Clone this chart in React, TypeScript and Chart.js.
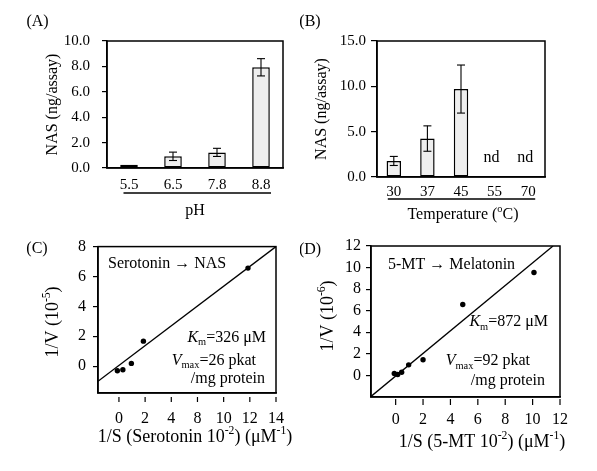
import React, { useEffect, useRef } from 'react';
import { Chart, registerables } from 'chart.js';
Chart.register(...registerables);

const FONT = '"Liberation Serif", "Times New Roman", serif';

// ---- Panel A: pH ----
const phLabels = ['5.5', '6.5', '7.8', '8.8'];
const phNas = [0.25, 0.92, 1.23, 7.93];
const phErr = [0, 0.33, 0.32, 0.68];
const phYTicks = [0, 2, 4, 6, 8, 10];

// ---- Panel B: temperature ----
const tempLabels = ['30', '37', '45', '55', '70'];
const tempNas: (number | null)[] = [1.77, 4.24, 9.7, null, null];
const tempErr: (number | null)[] = [0.5, 1.4, 2.65, null, null];
const tempYTicks = [0, 5, 10, 15];

// ---- Panel C: Serotonin -> NAS ----
const serX = [-0.12, 0.3, 0.95, 1.87, 9.86];
const serY = [-0.31, -0.24, 0.18, 1.67, 6.56];
const serFitX = [-1.6, 12];
const serFitY = [-1.02, 8];
const serXTicks = [0, 2, 4, 6, 8, 10, 12];
const serXTickLabels = ['0', '2', '4', '8', '10', '12', '14'];
const serYTicks = [0, 2, 4, 6, 8];

// ---- Panel D: 5-MT -> Melatonin ----
const mtX = [-0.1, 0.15, 0.44, 0.95, 2.0, 4.9, 10.1];
const mtY = [0.18, 0.09, 0.3, 0.98, 1.45, 6.58, 9.54];
const mtFitX = [-1.8, 11.49];
const mtFitY = [-1.95, 12];
const mtXTicks = [0, 2, 4, 6, 8, 10, 12];
const mtXTickLabels = ['0', '2', '4', '6', '8', '10', '12'];
const mtYTicks = [0, 2, 4, 6, 8, 10, 12];

type Seg = { t: string; sup?: boolean; sub?: boolean; it?: boolean };

function segFont(size: number, s: Seg) {
  const sz = s.sup || s.sub ? size * 0.65 : size;
  return `${s.it ? 'italic ' : ''}${sz}px ${FONT}`;
}

function drawRich(ctx: CanvasRenderingContext2D, segs: Seg[], x: number, y: number, size: number, align: 'left' | 'center' | 'right', rotate = false) {
  ctx.save();
  ctx.translate(x, y);
  if (rotate) ctx.rotate(-Math.PI / 2);
  ctx.textBaseline = 'middle';
  ctx.textAlign = 'left';
  ctx.fillStyle = '#000';
  let w = 0;
  for (const s of segs) {
    ctx.font = segFont(size, s);
    w += ctx.measureText(s.t).width;
  }
  let cx = align === 'center' ? -w / 2 : align === 'right' ? -w : 0;
  for (const s of segs) {
    ctx.font = segFont(size, s);
    const dy = s.sup ? -size * 0.36 : s.sub ? size * 0.3 : 0;
    ctx.fillText(s.t, cx, dy);
    cx += ctx.measureText(s.t).width;
  }
  ctx.restore();
}

function line(ctx: CanvasRenderingContext2D, x1: number, y1: number, x2: number, y2: number, w = 1.2) {
  ctx.beginPath();
  ctx.lineWidth = w;
  ctx.strokeStyle = '#000';
  ctx.moveTo(x1, y1);
  ctx.lineTo(x2, y2);
  ctx.stroke();
}

function frame(chart: any) {
  const { left, top, right, bottom } = chart.chartArea;
  const ctx = chart.ctx;
  ctx.lineWidth = 1.5;
  ctx.strokeStyle = '#000';
  ctx.strokeRect(left, top, right - left, bottom - top);
}

function yAxis(o: { min: number; max: number; ticks: number[]; width: number; size: number; pad: number; tl: number; fmt: (v: number) => string; title?: any }) {
  return {
    type: 'linear',
    min: o.min,
    max: o.max,
    afterBuildTicks: (s: any) => { s.ticks = o.ticks.map((v) => ({ value: v })); },
    afterFit: (s: any) => { s.width = o.width; },
    ticks: { font: { family: FONT, size: o.size }, color: '#000', padding: o.pad, callback: (v: any) => o.fmt(Number(v)) },
    grid: { display: true, drawOnChartArea: false, drawTicks: true, tickLength: o.tl, color: '#000', lineWidth: 1.2 },
    border: { display: true, color: '#000', width: 1.5 },
    title: o.title || { display: false },
  };
}

function barConfig(p: {
  labels: string[]; values: (number | null)[]; errs: (number | null)[]; yMin: number; yMax: number; yTicks: number[];
  pad: any; yWidth: number; xHeight: number; yPad: number; yTl: number; yTitlePad: number; xPad: number; barPct: number;
  xTitle?: string; xTitlePadBottom?: number; draw: (chart: any) => void;
}) {
  return {
    type: 'bar',
    data: {
      labels: p.labels,
      datasets: [{
        data: p.values,
        backgroundColor: '#eeeeee',
        borderColor: '#000',
        borderWidth: 1.5,
        borderSkipped: false,
        categoryPercentage: 1,
        barPercentage: p.barPct,
      }],
    },
    options: {
      responsive: false,
      animation: false,
      devicePixelRatio: 1,
      layout: { padding: p.pad },
      plugins: { legend: { display: false }, tooltip: { enabled: false } },
      scales: {
        x: {
          type: 'category',
          offset: true,
          afterFit: (s: any) => { s.height = p.xHeight; },
          grid: { display: false, drawTicks: false },
          border: { display: true, color: '#000', width: 1.5 },
          ticks: { font: { family: FONT, size: 15 }, color: '#000', padding: p.xPad, maxRotation: 0 },
          title: p.xTitle
            ? { display: true, text: p.xTitle, font: { family: FONT, size: 16 }, color: '#000', padding: { top: 0, bottom: p.xTitlePadBottom } }
            : { display: false },
        },
        y: yAxis({
          min: p.yMin, max: p.yMax, ticks: p.yTicks, width: p.yWidth, size: 15, pad: p.yPad, tl: p.yTl,
          fmt: (v) => v.toFixed(1),
          title: { display: true, text: 'NAS (ng/assay)', font: { family: FONT, size: 16 }, color: '#000', padding: { top: p.yTitlePad, bottom: 0 } },
        }),
      },
    },
    plugins: [{
      id: 'panelDecor',
      afterDraw: (chart: any) => {
        const ctx = chart.ctx;
        ctx.save();
        frame(chart);
        const meta = chart.getDatasetMeta(0);
        const ys = chart.scales.y;
        meta.data.forEach((bar: any, i: number) => {
          const v = p.values[i];
          const e = p.errs[i];
          if (v == null || !e) return;
          const yt = ys.getPixelForValue(v + e);
          const yb = ys.getPixelForValue(v - e);
          line(ctx, bar.x, yt, bar.x, yb, 1.1);
          line(ctx, bar.x - 4, yt, bar.x + 4, yt, 1.1);
          line(ctx, bar.x - 4, yb, bar.x + 4, yb, 1.1);
        });
        p.draw(chart);
        ctx.restore();
      },
    }],
  };
}

function scatterConfig(p: {
  xs: number[]; ys: number[]; fitX: number[]; fitY: number[]; xMin: number; xMax: number; yMin: number; yMax: number;
  xTicks: number[]; xTickLabels: string[]; yTicks: number[]; pad: any; yWidth: number; xHeight: number; yPad: number;
  xPad: number; tickGap: number; tickLen: number; draw: (chart: any) => void;
}) {
  return {
    type: 'scatter',
    data: {
      datasets: [
        {
          data: p.fitX.map((x, i) => ({ x, y: p.fitY[i] })),
          showLine: true,
          borderColor: '#000',
          borderWidth: 1.3,
          pointRadius: 0,
          fill: false,
        },
        {
          data: p.xs.map((x, i) => ({ x, y: p.ys[i] })),
          backgroundColor: '#000',
          borderColor: '#000',
          pointRadius: 2.7,
          borderWidth: 0,
        },
      ],
    },
    options: {
      responsive: false,
      animation: false,
      devicePixelRatio: 1,
      layout: { padding: p.pad },
      plugins: { legend: { display: false }, tooltip: { enabled: false } },
      scales: {
        x: {
          type: 'linear',
          min: p.xMin,
          max: p.xMax,
          afterBuildTicks: (s: any) => { s.ticks = p.xTicks.map((v) => ({ value: v })); },
          afterFit: (s: any) => { s.height = p.xHeight; },
          grid: { display: false, drawTicks: false },
          border: { display: true, color: '#000', width: 1.5 },
          ticks: {
            font: { family: FONT, size: 16 }, color: '#000', padding: p.xPad, maxRotation: 0,
            callback: (v: any) => p.xTickLabels[p.xTicks.indexOf(Number(v))],
          },
        },
        y: yAxis({ min: p.yMin, max: p.yMax, ticks: p.yTicks, width: p.yWidth, size: 16, pad: p.yPad, tl: 5, fmt: (v) => String(v) }),
      },
    },
    plugins: [{
      id: 'panelDecor',
      afterDraw: (chart: any) => {
        const ctx = chart.ctx;
        ctx.save();
        frame(chart);
        const xs = chart.scales.x;
        const b = chart.chartArea.bottom;
        p.xTicks.forEach((v) => {
          const x = xs.getPixelForValue(v);
          line(ctx, x, b + p.tickGap, x, b + p.tickGap + p.tickLen, 1.2);
        });
        p.draw(chart);
        ctx.restore();
      },
    }],
  };
}

const configA = () => barConfig({
  labels: phLabels, values: phNas, errs: phErr, yMin: 0, yMax: 10, yTicks: phYTicks,
  pad: { left: 0, top: 41, right: 17, bottom: 0 }, yWidth: 107, xHeight: 62, yPad: 12, yTl: 5, yTitlePad: 43,
  xPad: 8, barPct: 0.4, xTitle: 'pH', xTitlePadBottom: 10,
  draw: (chart) => {
    const ctx = chart.ctx;
    const xs = chart.scales.x;
    const y = chart.chartArea.bottom + 25;
    line(ctx, xs.getPixelForValue(0) - 5.5, y, xs.getPixelForValue(phLabels.length - 1) + 10, y, 1.3);
    drawRich(ctx, [{ t: '(A)' }], 37.5, 22, 16, 'center');
  },
});

const configB = () => barConfig({
  labels: tempLabels, values: tempNas, errs: tempErr, yMin: 0, yMax: 15, yTicks: tempYTicks,
  pad: { left: 0, top: 41, right: 52, bottom: 0 }, yWidth: 77, xHeight: 53, yPad: 5, yTl: 6, yTitlePad: 12,
  xPad: 6, barPct: 0.43,
  draw: (chart) => {
    const ctx = chart.ctx;
    const xs = chart.scales.x;
    const ys = chart.scales.y;
    const { left, right, bottom } = chart.chartArea;
    tempNas.forEach((v, i) => {
      if (v == null) drawRich(ctx, [{ t: 'nd' }], xs.getPixelForValue(i) - 3, ys.getPixelForValue(0) - 19, 16, 'center');
    });
    const y = bottom + 22;
    line(ctx, xs.getPixelForValue(0) - 6, y, xs.getPixelForValue(tempLabels.length - 1) + 7, y, 1.3);
    drawRich(ctx, [{ t: 'Temperature (' }, { t: 'o', sup: true }, { t: 'C)' }], (left + right) / 2 + 2, 215, 16, 'center');
    drawRich(ctx, [{ t: '(B)' }], 10, 22, 16, 'center');
  },
});

const configC = () => scatterConfig({
  xs: serX, ys: serY, fitX: serFitX, fitY: serFitY, xMin: -1.6, xMax: 12, yMin: -1.8, yMax: 8,
  xTicks: serXTicks, xTickLabels: serXTickLabels, yTicks: serYTicks,
  pad: { left: 0, top: 15, right: 21, bottom: 0 }, yWidth: 98, xHeight: 78, yPad: 7, xPad: 16, tickGap: 4, tickLen: 5,
  draw: (chart) => {
    const ctx = chart.ctx;
    drawRich(ctx, [{ t: 'Serotonin → NAS' }], 108, 34, 16, 'left');
    drawRich(ctx, [{ t: 'K', it: true }, { t: 'm', sub: true }, { t: '=326 μM' }], 266, 107.5, 16, 'right');
    drawRich(ctx, [{ t: 'V', it: true }, { t: 'max', sub: true }, { t: '=26 pkat' }], 256, 130.5, 16, 'right');
    drawRich(ctx, [{ t: '/mg protein' }], 265, 148.5, 16, 'right');
    drawRich(ctx, [{ t: '1/S (Serotonin 10' }, { t: '-2', sup: true }, { t: ') (μM' }, { t: '-1', sup: true }, { t: ')' }], 195, 207, 18, 'center');
    drawRich(ctx, [{ t: '1/V (10' }, { t: '-5', sup: true }, { t: ')' }], 53, 92, 18, 'center', true);
    drawRich(ctx, [{ t: '(C)' }], 37, 19, 16, 'center');
  },
});

const configD = () => scatterConfig({
  xs: mtX, ys: mtY, fitX: mtFitX, fitY: mtFitY, xMin: -1.8, xMax: 12, yMin: -2, yMax: 12,
  xTicks: mtXTicks, xTickLabels: mtXTickLabels, yTicks: mtYTicks,
  pad: { left: 0, top: 16, right: 37, bottom: 0 }, yWidth: 71, xHeight: 74, yPad: 5, xPad: 13, tickGap: 2, tickLen: 6,
  draw: (chart) => {
    const ctx = chart.ctx;
    drawRich(ctx, [{ t: '5-MT → Melatonin' }], 88, 35, 16, 'left');
    drawRich(ctx, [{ t: 'K', it: true }, { t: 'm', sub: true }, { t: '=872 μM' }], 248, 92, 16, 'right');
    drawRich(ctx, [{ t: 'V', it: true }, { t: 'max', sub: true }, { t: '=92 pkat' }], 230, 131, 16, 'right');
    drawRich(ctx, [{ t: '/mg protein' }], 245, 150.5, 16, 'right');
    drawRich(ctx, [{ t: '1/S (5-MT 10' }, { t: '-2', sup: true }, { t: ') (μM' }, { t: '-1', sup: true }, { t: ')' }], 182, 212.5, 18, 'center');
    drawRich(ctx, [{ t: '1/V (10' }, { t: '-6', sup: true }, { t: ')' }], 28, 86, 18, 'center', true);
    drawRich(ctx, [{ t: '(D)' }], 10, 20, 16, 'center');
  },
});

function Panel({ left, top, width, height, make }: { left: number; top: number; width: number; height: number; make: () => any }) {
  const ref = useRef<HTMLCanvasElement>(null);
  useEffect(() => {
    const chart = new Chart(ref.current as HTMLCanvasElement, make());
    return () => chart.destroy();
  }, []);
  return (
    <canvas
      ref={ref}
      width={width}
      height={height}
      style={{ position: 'absolute', left, top, width, height, display: 'block' }}
    />
  );
}

export default function App() {
  return (
    <div style={{ position: 'absolute', left: 0, top: 0, width: 597, height: 471, background: '#fff', overflow: 'hidden' }}>
      <Panel left={0} top={0} width={300} height={230} make={configA} />
      <Panel left={300} top={0} width={297} height={230} make={configB} />
      <Panel left={0} top={230} width={300} height={241} make={configC} />
      <Panel left={300} top={230} width={297} height={241} make={configD} />
    </div>
  );
}
